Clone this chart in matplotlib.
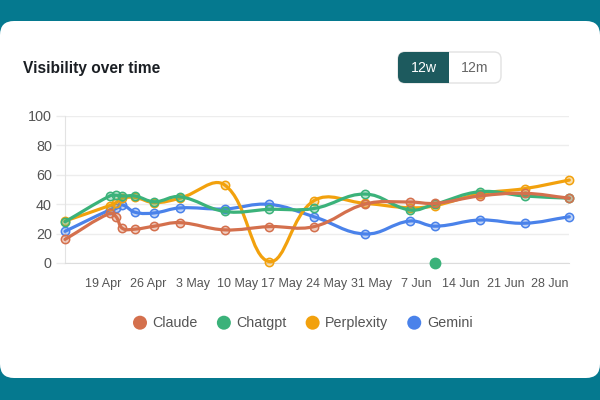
import numpy as np
import matplotlib
matplotlib.use("Agg")
import matplotlib.pyplot as plt
import matplotlib.dates as mdates
from matplotlib.path import Path
from matplotlib.patches import PathPatch, FancyBboxPatch, Circle

plt.rcParams['font.family'] = ['Liberation Sans', 'DejaVu Sans']

# ---------------- data ----------------
dates = ['2025-04-13', '2025-04-20', '2025-04-21', '2025-04-22', '2025-04-24',
         '2025-04-27', '2025-05-01', '2025-05-08', '2025-05-15', '2025-05-22',
         '2025-05-30', '2025-06-06', '2025-06-10', '2025-06-17', '2025-06-24',
         '2025-07-01']
claude =     [16, 33.7, 31.4, 23.5, 23, 25, 27.4, 22.5, 24.7, 24.7, 40, 41.4, 40.5, 45.5, 47.3, 44]
chatgpt =    [28, 45.5, 46, 45.5, 45.5, 41.6, 45, 35, 36.4, 37, 46.8, 36, 40, 48.4, 45.5, 44]
perplexity = [28.5, 39, 41, 44, 44.5, 41, 44, 53, 1, 42.3, 40.5, 37.5, 39, 47, 50.5, 56.3]
gemini =     [21.5, 36, 37, 39.4, 34.4, 34, 37.4, 36.7, 39.8, 31.4, 19.7, 28.5, 25, 29.2, 27, 31.4]
extra_dot_date = ['2025-06-10']
extra_dot_value = [0]

series_names = ['Claude', 'Chatgpt', 'Perplexity', 'Gemini']
series_values = [claude, chatgpt, perplexity, gemini]
colors = ['#d4704d', '#3bb27a', '#f2a10d', '#4a82ea']

tick_dates = ['2025-04-19', '2025-04-26', '2025-05-03', '2025-05-10', '2025-05-17',
              '2025-05-24', '2025-05-31', '2025-06-07', '2025-06-14', '2025-06-21',
              '2025-06-28']
tick_labels = ['19 Apr', '26 Apr', '3 May', '10 May', '17 May', '24 May',
               '31 May', '7 Jun', '14 Jun', '21 Jun', '28 Jun']
y_ticks = [0, 20, 40, 60, 80, 100]

title = 'Visibility over time'
toggle_labels = ['12w', '12m']

# ---------------- figure ----------------
W, H = 600, 400
fig = plt.figure(figsize=(6, 4), dpi=100, facecolor='#05798f')

bg = fig.add_axes([0, 0, 1, 1], zorder=-1)
bg.set_xlim(0, W)
bg.set_ylim(H, 0)
bg.axis('off')
bg.add_patch(FancyBboxPatch((0, 21), W, 357, boxstyle='round,pad=0,rounding_size=14',
                            fc='white', ec='none'))
bg.text(23, 68.5, title, fontsize=11.2, fontweight='bold', color='#1b1f24',
        ha='left', va='center')
# toggle
bg.add_patch(FancyBboxPatch((398, 52), 103, 31, boxstyle='round,pad=0,rounding_size=7',
                            fc='white', ec='#e2e2e2', lw=1))
bg.add_patch(FancyBboxPatch((398, 52), 51, 31, boxstyle='round,pad=0,rounding_size=7',
                            fc='#1d5a5e', ec='none'))
bg.add_patch(plt.Rectangle((440, 52), 9, 31, fc='#1d5a5e', ec='none'))
bg.text(423.5, 68, toggle_labels[0], fontsize=10.2, color='white', ha='center', va='center')
bg.text(475, 68, toggle_labels[1], fontsize=10.2, color='#666666', ha='center', va='center')

# main axes
x = mdates.datestr2num(dates)
left_px, right_px, top_px, bottom_px = 65, 569.3, 115.7, 263
ax = fig.add_axes([left_px / W, (H - bottom_px) / H, (right_px - left_px) / W,
                   (bottom_px - top_px) / H])
ax.set_facecolor('none')
ax.set_xlim(x[0], x[-1])
ax.set_ylim(0, 100)

ax.set_yticks(y_ticks)
ax.set_yticklabels([str(v) for v in y_ticks])
ax.set_xticks(mdates.datestr2num(tick_dates))
ax.set_xticklabels(tick_labels)
ax.tick_params(axis='y', length=6.5, width=1, color='#ebebeb', pad=3,
               labelsize=10.4, labelcolor='#555555')
ax.tick_params(axis='x', length=0, pad=11, labelsize=9, labelcolor='#555555')
ax.grid(axis='y', color='#ededed', lw=1)
ax.set_axisbelow(True)
for s in ['top', 'right']:
    ax.spines[s].set_visible(False)
ax.spines['left'].set_color('#e3e3e3')
ax.spines['bottom'].set_color('#dcdcdc')


def bezier_patch(xd, yd, tension=0.4):
    pts = ax.transData.transform(np.column_stack([xd, yd]))
    n = len(pts)
    pc, nc = [], []
    for i in range(n):
        cur = pts[i]
        prev = pts[i - 1] if i > 0 else cur
        nxt = pts[i + 1] if i < n - 1 else cur
        d01 = np.hypot(*(cur - prev))
        d12 = np.hypot(*(nxt - cur))
        tot = d01 + d12
        s01 = d01 / tot if tot else 0
        s12 = d12 / tot if tot else 0
        fa, fb = tension * s01, tension * s12
        pc.append(cur - fa * (nxt - prev))
        nc.append(cur + fb * (nxt - prev))
    verts = [pts[0]]
    codes = [Path.MOVETO]
    for i in range(1, n):
        verts += [nc[i - 1], pc[i], pts[i]]
        codes += [Path.CURVE4] * 3
    verts = ax.transData.inverted().transform(np.array(verts))
    return Path(verts, codes)


for k, (name, vals, c) in enumerate(zip(series_names, series_values, colors)):
    z = 10 - 2 * k
    path = bezier_patch(x, vals)
    ax.add_patch(PathPatch(path, fill=False, edgecolor=c, lw=2.3, zorder=z,
                           capstyle='round', joinstyle='round', clip_on=False))
    ax.plot(x, vals, 'o', ms=6, mfc=matplotlib.colors.to_rgba(c, 0.35), mec=c,
            mew=1.1, zorder=z + 0.5, clip_on=False)

ax.plot(mdates.datestr2num(extra_dot_date), extra_dot_value, 'o', ms=7.5,
        color=colors[1], zorder=12, clip_on=False)

# legend
renderer = fig.canvas.get_renderer()
lx = 133
ly = 322.7
for name, c in zip(series_names, colors):
    bg.add_patch(Circle((lx + 7, ly), 7, fc=c, ec='none'))
    t = bg.text(lx + 19.5, ly, name, fontsize=10.3, color='#555555', ha='left', va='center')
    w = t.get_window_extent(renderer).width
    lx = lx + 19.5 + w + 19

fig.savefig('out.png', dpi=100, facecolor=fig.get_facecolor())
